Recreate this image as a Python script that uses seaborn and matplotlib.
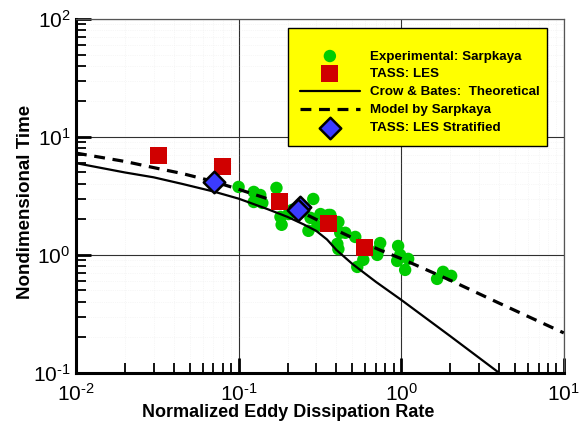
import matplotlib
matplotlib.use("Agg")
import matplotlib.pyplot as plt
import seaborn as sns
import numpy as np
from matplotlib.patches import Rectangle
from matplotlib.ticker import LogLocator, FuncFormatter, NullFormatter

# ---- data ----
exp_eta = [0.100, 0.124, 0.136, 0.124, 0.140, 0.171, 0.181, 0.184, 0.203, 0.214,
           0.240, 0.288, 0.277, 0.269, 0.319, 0.305, 0.357, 0.367, 0.411, 0.422,
           0.405, 0.411, 0.453, 0.522, 0.537, 0.585, 0.713, 0.743, 0.723, 0.958,
           0.986, 1.104, 0.945, 1.058, 1.663, 1.81, 2.03]
exp_time = [3.77, 3.42, 3.22, 2.81, 2.76, 3.70, 2.10, 1.80, 2.22, 2.41,
            2.41, 2.98, 2.06, 1.60, 2.22, 1.76, 2.18, 2.18, 1.90, 1.54,
            1.24, 1.12, 1.54, 1.42, 0.791, 0.908, 1.00, 1.26, 1.10, 1.19,
            1.00, 0.925, 0.889, 0.746, 0.626, 0.718, 0.664]

les_eta = [0.0323, 0.0798, 0.179, 0.357, 0.593]
les_time = [6.9, 5.57, 2.81, 1.83, 1.15]

strat_eta = [0.0703, 0.237, 0.233]
strat_time = [4.16, 2.55, 2.41]

cb_eta = [0.01, 0.02, 0.03, 0.045, 0.07, 0.1, 0.15, 0.2, 0.25, 0.3, 0.35, 0.4,
          0.5, 0.7, 1.0, 2.0, 4.0]
cb_time = [6.0, 5.0, 4.55, 4.0, 3.45, 3.0, 2.45, 2.1, 1.82, 1.6, 1.35, 1.1,
           0.84, 0.59, 0.416, 0.205, 0.1]

sk_eta = [0.01, 0.02, 0.03, 0.045, 0.07, 0.1, 0.15, 0.21, 0.3, 0.37, 0.5, 0.74,
          1.0, 2.0, 4.0, 10.0]
sk_time = [7.3, 6.2, 5.5, 4.9, 4.2, 3.6, 3.0, 2.55, 2.0, 1.7, 1.4, 1.1,
           0.93, 0.61, 0.39, 0.218]

x_lim = [1e-2, 1e1]
y_lim = [1e-1, 1e2]

labels_order = ["Experimental: Sarpkaya", "TASS: LES", "Crow & Bates:  Theoretical",
                "Model by Sarpkaya", "TASS: LES Stratified"]

# ---- style ----
sns.set_theme(style="white")
plt.rcParams["font.family"] = ["Liberation Sans", "DejaVu Sans"]
plt.rcParams["mathtext.fontset"] = "custom"
plt.rcParams["mathtext.rm"] = "Liberation Sans"
plt.rcParams["mathtext.it"] = "Liberation Sans:italic"
plt.rcParams["mathtext.bf"] = "Liberation Sans:bold"
plt.rcParams["text.color"] = "black"
plt.rcParams["axes.labelcolor"] = "black"
plt.rcParams["xtick.color"] = "black"
plt.rcParams["ytick.color"] = "black"

fig = plt.figure(figsize=(5.8, 4.33), dpi=100)
ax = fig.add_axes([0.131, 0.139, 0.841, 0.817])
ax.set_xscale("log")
ax.set_yscale("log")

sns.scatterplot(x=exp_eta, y=exp_time, ax=ax, color="#00CC00", s=80, marker="o",
                edgecolor="none", linewidth=0, label=labels_order[0], zorder=2)
sns.lineplot(x=cb_eta, y=cb_time, ax=ax, color="black", linewidth=1.6,
             estimator=None, sort=False, label=labels_order[2], zorder=3)
sns.lineplot(x=sk_eta, y=sk_time, ax=ax, color="black", linewidth=2.3,
             linestyle=(0, (3.4, 2.4)), estimator=None, sort=False,
             label=labels_order[3], zorder=3)
sns.scatterplot(x=les_eta, y=les_time, ax=ax, color="#D00000", s=150, marker="s",
                edgecolor="none", linewidth=0, label=labels_order[1], zorder=4)
sns.scatterplot(x=strat_eta, y=strat_time, ax=ax, color="#3B3BFF", s=120, marker="D",
                edgecolor="black", linewidth=1.8, label=labels_order[4], zorder=5)

ax.set_xlim(*x_lim)
ax.set_ylim(*y_lim)


def pow10(v, pos):
    n = int(round(np.log10(v)))
    return r"$10^{\text{%d}}$" % n


ax.xaxis.set_major_locator(LogLocator(base=10, numticks=10))
ax.yaxis.set_major_locator(LogLocator(base=10, numticks=10))
ax.xaxis.set_minor_locator(LogLocator(base=10, subs=range(2, 10), numticks=20))
ax.yaxis.set_minor_locator(LogLocator(base=10, subs=range(2, 10), numticks=20))
ax.xaxis.set_major_formatter(FuncFormatter(pow10))
ax.yaxis.set_major_formatter(FuncFormatter(pow10))
ax.xaxis.set_minor_formatter(NullFormatter())
ax.yaxis.set_minor_formatter(NullFormatter())

ax.set_axisbelow(True)
ax.grid(which="major", color="#303030", linewidth=0.8)
ax.grid(which="minor", color="#efefef", linestyle=":", linewidth=0.5)

ax.tick_params(which="major", direction="in", length=10.5, width=2.0, color="black",
               left=True, bottom=True, top=False, right=False, labelsize=15, pad=4)
ax.tick_params(axis="x", which="major", pad=7)
ax.tick_params(which="minor", direction="in", length=7, width=1.3, color="black",
               left=True, bottom=True, top=False, right=False)

for side in ["left", "bottom"]:
    ax.spines[side].set_linewidth(2.2)
    ax.spines[side].set_color("black")
for side in ["top", "right"]:
    ax.spines[side].set_linewidth(0.9)
    ax.spines[side].set_color("#555555")

ax.set_xlabel("Normalized Eddy Dissipation Rate", fontsize=13, fontweight="bold")
ax.set_ylabel("Nondimensional Time", fontsize=13.5, fontweight="bold")
ax.xaxis.set_label_coords(0.436, -0.088)
ax.yaxis.set_label_coords(-0.086, 0.483)

# legend box
rect = Rectangle((0.434, 0.641), 0.531, 0.334, transform=ax.transAxes,
                 facecolor="#FFFF00", edgecolor="black", linewidth=1.0, zorder=10)
ax.add_patch(rect)

handles, labels = ax.get_legend_handles_labels()
hmap = dict(zip(labels, handles))
leg = ax.legend([hmap[l] for l in labels_order], labels_order, loc="upper left",
                bbox_to_anchor=(0.459, 0.912), frameon=False,
                prop={"weight": "bold", "size": 9.6}, handlelength=4.5,
                handletextpad=0.78, labelspacing=0.42, borderpad=0, borderaxespad=0)
leg.set_zorder(11)

fig.savefig("out.png", dpi=100)
